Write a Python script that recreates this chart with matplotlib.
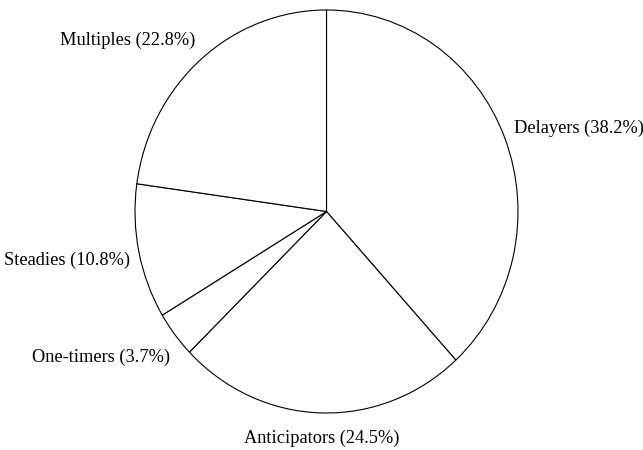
import matplotlib
matplotlib.use("Agg")
import matplotlib.pyplot as plt

# slice data, clockwise from 12 o'clock
categories = ['Delayers', 'Anticipators', 'One-timers', 'Steadies', 'Multiples']
shares = [38.2, 24.5, 3.7, 10.8, 22.8]

# where each label sits (radius units) and how it is aligned
label_x = [0.979, -0.026, -0.817, -1.026, -1.392]
label_y = [0.414, -1.124, -0.722, -0.243, 0.851]
label_ha = ['left', 'center', 'right', 'right', 'left']

plt.rcParams['font.family'] = ['Liberation Serif', 'DejaVu Serif']

fig = plt.figure(figsize=(6.43, 4.5), dpi=100)
ax = fig.add_axes([0, 0, 1, 1])

ax.pie(shares, startangle=90, counterclock=False, colors=['white'] * len(shares),
       wedgeprops=dict(edgecolor='black', linewidth=0.8))

for name, val, x, y, ha in zip(categories, shares, label_x, label_y, label_ha):
    ax.text(x, y, f'{name} ({val}%)', ha=ha, va='center', fontsize=13.2)

# the scanned pie is a little taller than wide: centre (326.5, 211.5) px,
# radius 191.5 px across and 201.5 px up/down
ax.set_aspect('auto')
ax.set_xlim(-326.5 / 191.5, (643 - 326.5) / 191.5)
ax.set_ylim(-(450 - 211.5) / 201.5, 211.5 / 201.5)
ax.axis('off')

fig.savefig('out.png', dpi=100)
